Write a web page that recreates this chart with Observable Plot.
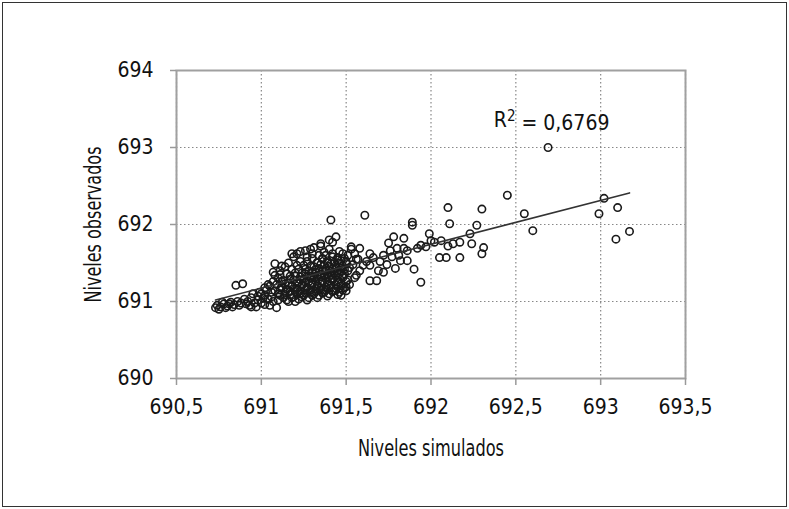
<!DOCTYPE html>
<html>
<head>
<meta charset="utf-8">
<script src="https://cdn.jsdelivr.net/npm/d3@7"></script>
<script src="https://cdn.jsdelivr.net/npm/@observablehq/plot@0.6"></script>
<style>
  body { margin: 0; background: #fff; }
  #chart svg { display: block; outline: 1px solid #333; outline-offset: -3px; }
  #chart svg, #chart svg text { font-family: 'Liberation Sans Narrow', 'DejaVu Sans Condensed', 'DejaVu Sans', sans-serif !important; font-stretch: condensed !important; }
</style>
</head>
<body>
<div id="chart"></div>
<script>
// Niveles simulados (x) and Niveles observados (y), paired by index
const simulados = [
  690.73,690.74,690.76,690.78,690.80,690.82,690.84,690.86,690.88,690.90,
  690.92,690.94,690.96,690.98,690.85,690.89,690.93,690.97,691.00,691.02,
  691.04,691.06,691.08,691.09,691.10,691.05,690.99,690.95,691.03,691.01,691.07,691.05,691.00,
  690.75,690.77,690.79,690.81,690.83,690.87,690.91,690.94,690.98,691.02,691.06,691.08,
  691.04,691.07,691.02,
  691.10,691.11,691.09,691.10,691.11,
  691.13,691.14,691.12,691.13,691.14,
  691.16,691.17,691.15,691.16,691.17,691.16,
  691.19,691.20,691.18,691.19,691.20,691.19,
  691.22,691.23,691.21,691.22,691.23,691.22,691.21,
  691.25,691.26,691.24,691.25,691.26,691.25,691.26,
  691.28,691.29,691.27,691.28,691.29,691.28,691.27,
  691.31,691.32,691.30,691.31,691.32,691.31,691.30,691.31,
  691.34,691.35,691.33,691.34,691.35,691.34,691.33,691.34,691.35,
  691.37,691.38,691.36,691.37,691.38,691.37,691.36,691.37,
  691.40,691.41,691.39,691.40,691.41,691.40,691.39,691.40,691.40,
  691.43,691.44,691.42,691.43,691.44,691.43,691.42,
  691.46,691.47,691.45,691.46,691.47,691.46,691.45,691.46,
  691.49,691.50,691.48,691.49,691.50,691.49,691.48,
  691.52,691.55,691.51,691.54,691.56,691.53,
  691.11,691.12,691.12,691.11,
  691.15,691.14,691.15,691.14,691.15,
  691.18,691.17,691.18,691.17,691.18,
  691.20,691.21,691.20,691.21,691.20,691.21,
  691.24,691.23,691.24,691.23,691.24,691.23,
  691.27,691.26,691.27,691.26,691.27,691.26,691.27,
  691.30,691.29,691.30,691.29,691.30,691.29,691.30,
  691.33,691.32,691.33,691.32,691.33,691.32,691.33,
  691.36,691.35,691.36,691.35,691.36,691.35,691.36,
  691.39,691.38,691.39,691.38,691.39,691.38,691.39,691.38,
  691.42,691.41,691.42,691.41,691.42,691.41,691.42,
  691.45,691.44,691.45,691.44,691.45,691.44,691.45,
  691.48,691.47,691.48,691.47,691.48,691.47,
  691.50,691.51,691.49,691.52,691.50,691.51,
  691.08,691.12,691.07,691.18,691.23,691.29,691.35,691.41,691.61,691.44,
  691.42,691.53,691.58,691.64,691.69,691.64,691.68,691.60,691.62,691.78,
  691.75,691.80,691.77,691.82,691.70,691.50,691.56,691.58,691.47,691.64,
  691.55,691.57,691.66,691.72,691.74,691.79,
  692.10,691.89,691.89,692.11,692.27,691.99,692.00,692.23,692.24,692.17,
  692.13,692.30,692.31,692.05,692.09,692.17,691.94,691.90,691.86,691.84,
  691.84,691.76,691.72,691.92,691.86,691.94,691.97,692.02,692.06,691.81,692.10,
  692.69,692.45,692.55,692.60,692.99,693.10,693.09,693.17,692.30,693.02
];
const observados = [
  690.92,690.95,690.93,690.97,690.94,690.99,690.96,691.00,690.98,691.03,
  691.00,691.05,690.98,691.07,691.21,691.23,690.95,690.93,690.98,691.08,
  691.03,691.12,691.34,690.92,691.10,690.95,691.12,691.10,691.15,691.04,691.00,691.20,691.10,
  690.90,690.99,690.92,690.97,690.93,690.95,690.97,690.93,691.02,690.96,691.06,691.14,
  691.22,691.26,691.18,
  691.02,691.15,691.22,691.30,691.40,
  691.05,691.12,691.19,691.27,691.45,
  691.00,691.09,691.16,691.24,691.33,691.50,
  691.06,691.13,691.20,691.28,691.37,691.58,
  691.03,691.10,691.17,691.25,691.32,691.42,691.62,
  691.08,691.15,691.22,691.29,691.36,691.47,691.66,
  691.05,691.12,691.19,691.26,691.33,691.40,691.52,
  691.10,691.17,691.24,691.31,691.38,691.45,691.56,691.70,
  691.08,691.15,691.22,691.29,691.36,691.43,691.50,691.60,691.75,
  691.12,691.19,691.26,691.33,691.40,691.47,691.55,691.64,
  691.10,691.18,691.25,691.32,691.39,691.46,691.53,691.68,691.80,
  691.14,691.22,691.30,691.37,691.44,691.51,691.58,
  691.12,691.20,691.28,691.36,691.43,691.50,691.57,691.65,
  691.18,691.26,691.34,691.42,691.49,691.56,691.62,
  691.22,691.31,691.40,691.48,691.55,691.68,
  691.08,691.19,691.26,691.35,
  691.02,691.09,691.16,691.23,691.36,
  691.05,691.13,691.20,691.29,691.42,
  691.00,691.10,691.17,691.24,691.33,691.47,
  691.06,691.14,691.21,691.28,691.37,691.52,
  691.02,691.11,691.18,691.25,691.33,691.42,691.58,
  691.08,691.15,691.22,691.30,691.37,691.46,691.62,
  691.05,691.13,691.20,691.27,691.34,691.42,691.51,
  691.11,691.18,691.25,691.32,691.40,691.48,691.56,
  691.07,691.15,691.22,691.30,691.36,691.43,691.50,691.60,
  691.13,691.21,691.28,691.35,691.42,691.49,691.62,
  691.09,691.17,691.25,691.33,691.40,691.47,691.54,
  691.15,691.23,691.31,691.39,691.46,691.53,
  691.19,691.28,691.36,691.44,691.52,691.60,
  691.49,691.46,691.38,691.62,691.65,691.68,691.72,692.06,692.12,691.84,
  691.77,691.71,691.69,691.62,691.40,691.27,691.27,691.47,691.52,691.84,
  691.76,691.69,691.58,691.53,691.52,691.14,691.34,691.40,691.08,691.47,
  691.62,691.55,691.57,691.60,691.48,691.43,
  692.22,692.03,691.99,692.01,691.99,691.88,691.79,691.88,691.75,691.77,
  691.75,691.62,691.70,691.57,691.57,691.57,691.25,691.42,691.53,691.82,
  691.69,691.66,691.38,691.69,691.66,691.73,691.71,691.77,691.79,691.60,691.72,
  693.00,692.38,692.14,691.92,692.14,692.22,691.81,691.91,692.20,692.34
];
// Linear trend line (endpoints of the fitted line)
const trendX = [690.73, 693.17];
const trendY = [691.02, 692.41];
const r2Text = ["R2 = 0,6769"];
const r2X = [692.37];
const r2Y = [693.35];

const xTicks = [690.5, 691, 691.5, 692, 692.5, 693, 693.5];
const yTicks = [690, 691, 692, 693, 694];
const xLabel = "Niveles simulados";
const yLabel = "Niveles observados";

const points = simulados.map((x, i) => ({x, y: observados[i]}));
const trend = trendX.map((x, i) => ({x, y: trendY[i]}));
const r2 = r2Text.map((t, i) => ({text: t, x: r2X[i], y: r2Y[i]}));
const fmt = d => String(d).replace(".", ",");

const chart = Plot.plot({
  width: 789,
  height: 509,
  marginLeft: 176,
  marginRight: 104,
  marginTop: 70,
  marginBottom: 131,
  style: {
    fontFamily: "'Liberation Sans Narrow', 'DejaVu Sans Condensed', sans-serif",
    fontSize: "21px",
    color: "#111",
    background: "#fff"
  },
  x: {domain: [690.5, 693.5]},
  y: {domain: [690, 694]},
  marks: [
    Plot.gridX(xTicks, {stroke: "#888", strokeOpacity: 1, strokeWidth: 1.2, strokeDasharray: "1.5,2.5"}),
    Plot.gridY(yTicks, {stroke: "#888", strokeOpacity: 1, strokeWidth: 1.2, strokeDasharray: "1.5,2.5"}),
    Plot.frame({stroke: "#a0a0a0", strokeWidth: 2}),
    Plot.axisX(xTicks, {
      tickSize: 7, tickPadding: 14, stroke: "#999", strokeWidth: 1.5,
      tickFormat: fmt, label: xLabel, labelAnchor: "center",
      labelArrow: "none", labelOffset: 77, fontSize: 21
    }),
    Plot.axisY(yTicks, {
      tickSize: 6, tickPadding: 17, stroke: "#999", strokeWidth: 1.5,
      tickFormat: fmt, label: yLabel, labelAnchor: "center",
      labelArrow: "none", labelOffset: 92, fontSize: 21
    }),
    Plot.dot(points, {x: "x", y: "y", r: 3.7, fill: "none", stroke: "#1a1a1a", strokeWidth: 1.6}),
    Plot.line(trend, {x: "x", y: "y", stroke: "#333", strokeWidth: 1.6}),
    Plot.text(r2, {x: "x", y: "y", text: "text", textAnchor: "start", fontSize: 21, fill: "#111"})
  ]
});
document.getElementById("chart").append(chart);
const ns = "http://www.w3.org/2000/svg";
chart.querySelectorAll("text").forEach(t => {
  const s = t.textContent;
  if (s === r2Text[0]) {
    // render the exponent of R2 as a superscript
    t.textContent = "";
    const a = document.createElementNS(ns, "tspan"); a.textContent = "R";
    const b = document.createElementNS(ns, "tspan"); b.textContent = "2";
    b.setAttribute("dy", "-0.4em"); b.setAttribute("font-size", "15");
    const c = document.createElementNS(ns, "tspan"); c.textContent = " = 0,6769";
    c.setAttribute("dy", "0.4em");
    t.append(a, b, c);
  } else if (s === xLabel) {
    t.setAttribute("font-size", "23");
    t.setAttribute("textLength", "146"); t.setAttribute("lengthAdjust", "spacingAndGlyphs");
  } else if (s === yLabel) {
    t.setAttribute("font-size", "23");
    t.setAttribute("textLength", "156"); t.setAttribute("lengthAdjust", "spacingAndGlyphs");
  }
});
</script>
</body>
</html>
